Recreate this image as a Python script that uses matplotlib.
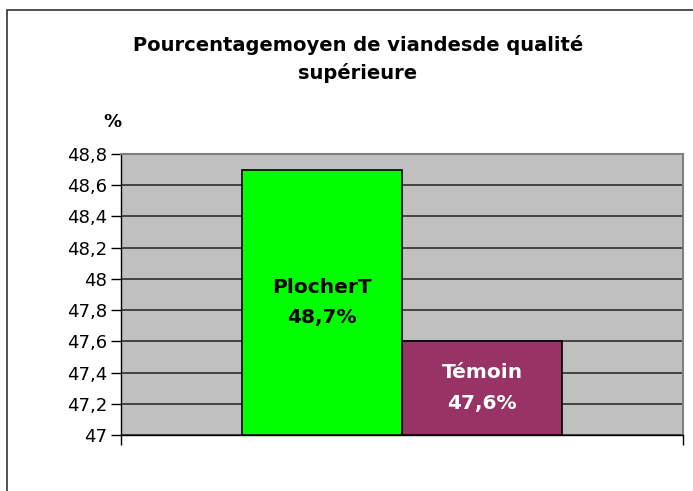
import matplotlib.pyplot as plt
from matplotlib.patches import Rectangle

# data
series = ["PlocherT", "Témoin"]
values = [48.7, 47.6]
labels = ["48,7%", "47,6%"]
colors = ["#00FF00", "#993366"]
label_colors = ["black", "white"]
yticks = [47, 47.2, 47.4, 47.6, 47.8, 48, 48.2, 48.4, 48.6, 48.8]
ytick_labels = ["47", "47,2", "47,4", "47,6", "47,8", "48", "48,2", "48,4", "48,6", "48,8"]
title_lines = ["Pourcentagemoyen de viandesde qualité", "supérieure"]

plt.rcParams['font.family'] = ['DejaVu Sans']

fig = plt.figure(figsize=(6.93, 4.91), dpi=100)
fig.patch.set_facecolor("white")

# outer chart frame (only left and top visible)
fig.patches.append(Rectangle((7 / 693, -0.05), 1.2, 1 - 10 / 491 + 0.05,
                             transform=fig.transFigure, fill=False,
                             edgecolor="#333333", linewidth=1.2))

ax = fig.add_axes([121 / 693, 56 / 491, 562 / 693, 281 / 491])
ax.set_facecolor("#C0C0C0")

ymin = yticks[0]
w = 160 / 562
xs = [0.5 - w / 2, 0.5 + w / 2]
ax.bar(xs, [v - ymin for v in values], bottom=ymin, width=w,
       color=colors, edgecolor="black", linewidth=1.2, zorder=3)

for x, v, s, lab, c in zip(xs, values, series, labels, label_colors):
    mid = (ymin + v) / 2
    ax.annotate(s, (x, mid), xytext=(0, 11), textcoords="offset points",
                ha="center", va="center", fontsize=14.5, fontweight="bold",
                color=c, zorder=4)
    ax.annotate(lab, (x, mid), xytext=(0, -11), textcoords="offset points",
                ha="center", va="center", fontsize=14.5, fontweight="bold",
                color=c, zorder=4)

ax.set_xlim(0, 1)
ax.set_ylim(yticks[0], yticks[-1])
ax.set_yticks(yticks)
ax.set_yticklabels(ytick_labels, fontsize=13)
ax.set_xticks([0, 1])
ax.set_xticklabels([])
ax.tick_params(axis="both", direction="out", length=7, width=1, color="black", pad=3)
ax.yaxis.grid(True, color="#222222", linewidth=1.1, zorder=1)
ax.set_axisbelow(True)

for side in ["top", "right"]:
    ax.spines[side].set_color("#808080")
    ax.spines[side].set_linewidth(1.5)
for side in ["left", "bottom"]:
    ax.spines[side].set_color("black")
    ax.spines[side].set_linewidth(1)

fig.text(358 / 693, 1 - 45 / 491, title_lines[0], ha="center", va="center",
         fontsize=14, fontweight="bold")
fig.text(358 / 693, 1 - 73 / 491, title_lines[1], ha="center", va="center",
         fontsize=14, fontweight="bold")
fig.text(112 / 693, 1 - 122 / 491, "%", ha="center", va="center",
         fontsize=13, fontweight="bold")

fig.savefig("out.png", dpi=100)
